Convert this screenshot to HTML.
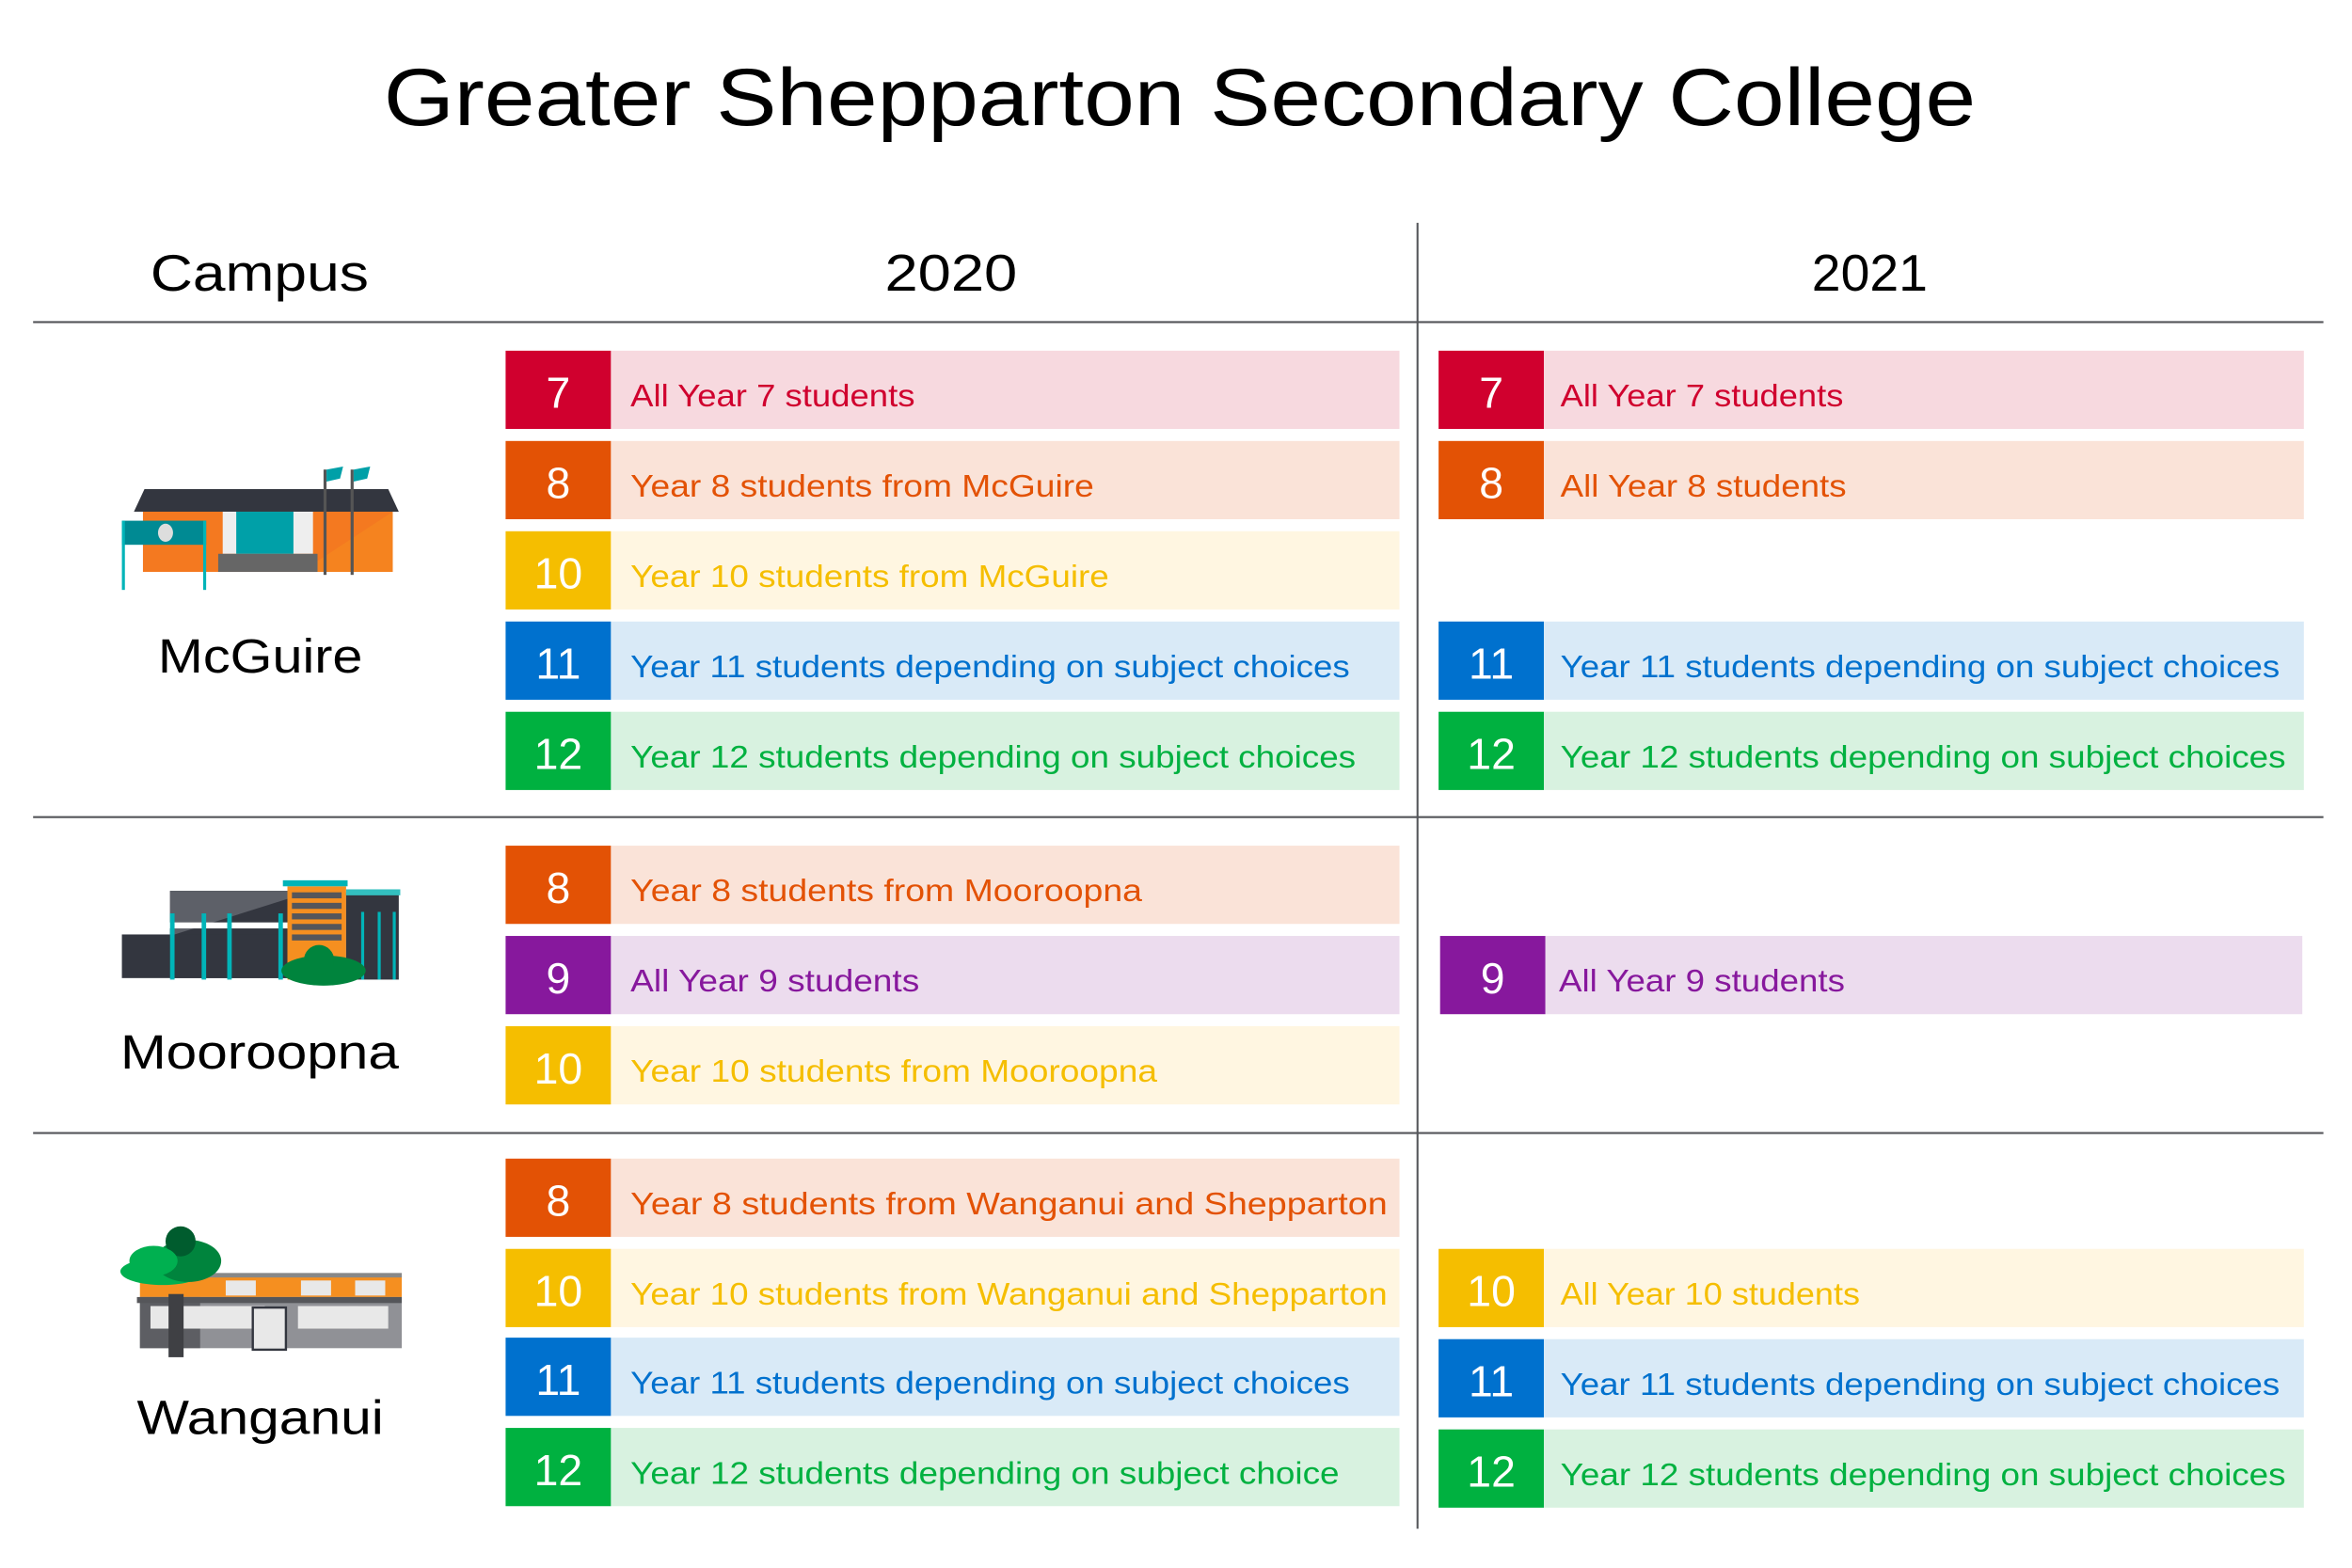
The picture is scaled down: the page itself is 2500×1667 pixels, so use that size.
<!DOCTYPE html>
<html><head><meta charset="utf-8"><style>html,body{margin:0;padding:0;background:#fff}svg{display:block}</style></head>
<body>
<svg width="2500" height="1667" viewBox="0 0 1563 1042" xmlns="http://www.w3.org/2000/svg" font-family="Liberation Sans, sans-serif">
<rect width="1563" height="1042" fill="#fff"/>
<text x="255" y="83" font-size="54" textLength="1058" lengthAdjust="spacingAndGlyphs" fill="#000">Greater Shepparton Secondary College</text>
<text x="100" y="193" font-size="34" textLength="145" lengthAdjust="spacingAndGlyphs">Campus</text>
<text x="588" y="193" font-size="34" textLength="88" lengthAdjust="spacingAndGlyphs">2020</text>
<text x="1204" y="193" font-size="34" textLength="77" lengthAdjust="spacingAndGlyphs">2021</text>
<g stroke="#55565a" stroke-width="1.3">
<line x1="22" y1="214" x2="1544" y2="214"/>
<line x1="22" y1="543" x2="1544" y2="543"/>
<line x1="22" y1="753" x2="1544" y2="753"/>
<line x1="942" y1="148" x2="942" y2="1016"/>
</g>
<text x="105" y="447" font-size="32" textLength="136" lengthAdjust="spacingAndGlyphs">McGuire</text>
<text x="80" y="710" font-size="32" textLength="185" lengthAdjust="spacingAndGlyphs">Mooroopna</text>
<text x="91" y="953" font-size="32" textLength="164" lengthAdjust="spacingAndGlyphs">Wanganui</text>

<!-- McGuire icon -->
<g>
<polygon points="96,325 258,325 265,340 89,340" fill="#33363f"/>
<rect x="95" y="340" width="166" height="40" fill="#f47920"/>
<polygon points="200,380 261,340 261,380" fill="#f58a20" opacity="0.6"/>
<rect x="148" y="340" width="60" height="28" fill="#eee"/>
<rect x="157" y="340" width="38" height="28" fill="#00a0a8"/>
<rect x="145" y="368" width="66" height="12" fill="#666"/>
<rect x="81" y="346" width="56" height="16" fill="#008a93"/>
<ellipse cx="110" cy="354" rx="5" ry="6" fill="#ddd"/>
<rect x="81" y="346" width="2" height="46" fill="#00b4b8"/><rect x="135" y="346" width="2" height="46" fill="#00b4b8"/>
<rect x="215" y="312" width="2" height="70" fill="#555"/><rect x="233" y="312" width="2" height="70" fill="#555"/>
<polygon points="217,312 228,310 226,318 217,320" fill="#00a0a8"/>
<polygon points="235,312 246,310 244,318 235,320" fill="#00a0a8"/>
</g>
<!-- Mooroopna icon -->
<g>
<rect x="113" y="592" width="95" height="58" fill="#33363f"/>
<rect x="81" y="621" width="110" height="29" fill="#33363f"/>
<polygon points="113,592 208,592 113,622" fill="#5d6068"/>
<rect x="81" y="613" width="110" height="4" fill="#fff"/>
<rect x="191" y="589" width="39" height="62" fill="#f58f20"/>
<rect x="188" y="585" width="43" height="4" fill="#00b4b8"/>
<g fill="#55565a"><rect x="194" y="593" width="33" height="4"/><rect x="194" y="600" width="33" height="4"/><rect x="194" y="607" width="33" height="4"/><rect x="194" y="614" width="33" height="4"/><rect x="194" y="621" width="33" height="4"/></g>
<rect x="230" y="593" width="35" height="58" fill="#33363f"/>
<rect x="230" y="591" width="36" height="4" fill="#33bfbf"/>
<g fill="#00b4b8"><rect x="113" y="607" width="3" height="44"/><rect x="134" y="607" width="3" height="44"/><rect x="151" y="607" width="3" height="44"/><rect x="185" y="607" width="3" height="44"/><rect x="240" y="606" width="2" height="45"/><rect x="251" y="606" width="2" height="45"/><rect x="261" y="606" width="2" height="45"/></g>
<ellipse cx="215" cy="645" rx="28" ry="10" fill="#00843d"/>
<circle cx="212" cy="638" r="10" fill="#00843d"/>
</g>
<!-- Wanganui icon -->
<g>
<rect x="93" y="848" width="174" height="14" fill="#f58f20"/>
<rect x="93" y="846" width="174" height="3" fill="#888"/>
<rect x="93" y="862" width="174" height="34" fill="#909196"/>
<rect x="93" y="862" width="40" height="34" fill="#5d5e63"/>
<rect x="91" y="862" width="176" height="4" fill="#55565a"/>
<g fill="#e8e8e8"><rect x="100" y="868" width="40" height="15"/><rect x="136" y="868" width="40" height="15"/><rect x="198" y="868" width="40" height="15"/><rect x="232" y="868" width="26" height="15"/><rect x="200" y="851" width="20" height="10"/><rect x="236" y="851" width="20" height="10"/><rect x="150" y="851" width="20" height="10"/></g>
<rect x="168" y="869" width="22" height="28" fill="#e8e8e8" stroke="#33363f" stroke-width="1.5"/>
<rect x="112" y="860" width="10" height="42" fill="#3f4044"/>
<ellipse cx="108" cy="845" rx="28" ry="9" fill="#00b050"/>
<ellipse cx="125" cy="838" rx="22" ry="14" fill="#00843d"/>
<circle cx="120" cy="825" r="10" fill="#005c2e"/>
<ellipse cx="102" cy="838" rx="16" ry="10" fill="#00b050"/>
</g>

<!-- rows -->
<g font-size="21">
<!-- 2020 McGuire -->
<rect x="336" y="233" width="70" height="52" fill="#d0002e"/><rect x="406" y="233" width="524" height="52" fill="#f7d9df"/>
<text x="371" y="271" font-size="29" fill="#fff" text-anchor="middle">7</text>
<text x="419" y="270" fill="#d0002e" textLength="189" lengthAdjust="spacingAndGlyphs">All Year 7 students</text>
<rect x="336" y="293" width="70" height="52" fill="#e35205"/><rect x="406" y="293" width="524" height="52" fill="#fae3d8"/>
<text x="371" y="331" font-size="29" fill="#fff" text-anchor="middle">8</text>
<text x="419" y="330" fill="#e35205" textLength="308" lengthAdjust="spacingAndGlyphs">Year 8 students from McGuire</text>
<rect x="336" y="353" width="70" height="52" fill="#f5be00"/><rect x="406" y="353" width="524" height="52" fill="#fff6e1"/>
<text x="371" y="391" font-size="29" fill="#fff" text-anchor="middle">10</text>
<text x="419" y="390" fill="#f5be00" textLength="318" lengthAdjust="spacingAndGlyphs">Year 10 students from McGuire</text>
<rect x="336" y="413" width="70" height="52" fill="#0071ce"/><rect x="406" y="413" width="524" height="52" fill="#d9eaf7"/>
<text x="371" y="451" font-size="29" fill="#fff" text-anchor="middle">11</text>
<text x="419" y="450" fill="#0071ce" textLength="478" lengthAdjust="spacingAndGlyphs">Year 11 students depending on subject choices</text>
<rect x="336" y="473" width="70" height="52" fill="#00b140"/><rect x="406" y="473" width="524" height="52" fill="#d8f2e0"/>
<text x="371" y="511" font-size="29" fill="#fff" text-anchor="middle">12</text>
<text x="419" y="510" fill="#00b140" textLength="482" lengthAdjust="spacingAndGlyphs">Year 12 students depending on subject choices</text>
<!-- 2020 Mooroopna -->
<rect x="336" y="562" width="70" height="52" fill="#e35205"/><rect x="406" y="562" width="524" height="52" fill="#fae3d8"/>
<text x="371" y="600" font-size="29" fill="#fff" text-anchor="middle">8</text>
<text x="419" y="599" fill="#e35205" textLength="340" lengthAdjust="spacingAndGlyphs">Year 8 students from Mooroopna</text>
<rect x="336" y="622" width="70" height="52" fill="#87189d"/><rect x="406" y="622" width="524" height="52" fill="#ecdcee"/>
<text x="371" y="660" font-size="29" fill="#fff" text-anchor="middle">9</text>
<text x="419" y="659" fill="#87189d" textLength="192" lengthAdjust="spacingAndGlyphs">All Year 9 students</text>
<rect x="336" y="682" width="70" height="52" fill="#f5be00"/><rect x="406" y="682" width="524" height="52" fill="#fff6e1"/>
<text x="371" y="720" font-size="29" fill="#fff" text-anchor="middle">10</text>
<text x="419" y="719" fill="#f5be00" textLength="350" lengthAdjust="spacingAndGlyphs">Year 10 students from Mooroopna</text>
<!-- 2020 Wanganui -->
<rect x="336" y="770" width="70" height="52" fill="#e35205"/><rect x="406" y="770" width="524" height="52" fill="#fae3d8"/>
<text x="371" y="808" font-size="29" fill="#fff" text-anchor="middle">8</text>
<text x="419" y="807" fill="#e35205" textLength="503" lengthAdjust="spacingAndGlyphs">Year 8 students from Wanganui and Shepparton</text>
<rect x="336" y="830" width="70" height="52" fill="#f5be00"/><rect x="406" y="830" width="524" height="52" fill="#fff6e1"/>
<text x="371" y="868" font-size="29" fill="#fff" text-anchor="middle">10</text>
<text x="419" y="867" fill="#f5be00" textLength="503" lengthAdjust="spacingAndGlyphs">Year 10 students from Wanganui and Shepparton</text>
<rect x="336" y="889" width="70" height="52" fill="#0071ce"/><rect x="406" y="889" width="524" height="52" fill="#d9eaf7"/>
<text x="371" y="927" font-size="29" fill="#fff" text-anchor="middle">11</text>
<text x="419" y="926" fill="#0071ce" textLength="478" lengthAdjust="spacingAndGlyphs">Year 11 students depending on subject choices</text>
<rect x="336" y="949" width="70" height="52" fill="#00b140"/><rect x="406" y="949" width="524" height="52" fill="#d8f2e0"/>
<text x="371" y="987" font-size="29" fill="#fff" text-anchor="middle">12</text>
<text x="419" y="986" fill="#00b140" textLength="471" lengthAdjust="spacingAndGlyphs">Year 12 students depending on subject choice</text>

<!-- 2021 -->
<rect x="956" y="233" width="70" height="52" fill="#d0002e"/><rect x="1026" y="233" width="505" height="52" fill="#f7d9df"/>
<text x="991" y="271" font-size="29" fill="#fff" text-anchor="middle">7</text>
<text x="1037" y="270" fill="#d0002e" textLength="188" lengthAdjust="spacingAndGlyphs">All Year 7 students</text>
<rect x="956" y="293" width="70" height="52" fill="#e35205"/><rect x="1026" y="293" width="505" height="52" fill="#fae3d8"/>
<text x="991" y="331" font-size="29" fill="#fff" text-anchor="middle">8</text>
<text x="1037" y="330" fill="#e35205" textLength="190" lengthAdjust="spacingAndGlyphs">All Year 8 students</text>
<rect x="956" y="413" width="70" height="52" fill="#0071ce"/><rect x="1026" y="413" width="505" height="52" fill="#d9eaf7"/>
<text x="991" y="451" font-size="29" fill="#fff" text-anchor="middle">11</text>
<text x="1037" y="450" fill="#0071ce" textLength="478" lengthAdjust="spacingAndGlyphs">Year 11 students depending on subject choices</text>
<rect x="956" y="473" width="70" height="52" fill="#00b140"/><rect x="1026" y="473" width="505" height="52" fill="#d8f2e0"/>
<text x="991" y="511" font-size="29" fill="#fff" text-anchor="middle">12</text>
<text x="1037" y="510" fill="#00b140" textLength="482" lengthAdjust="spacingAndGlyphs">Year 12 students depending on subject choices</text>
<rect x="957" y="622" width="70" height="52" fill="#87189d"/><rect x="1027" y="622" width="503" height="52" fill="#ecdcee"/>
<text x="992" y="660" font-size="29" fill="#fff" text-anchor="middle">9</text>
<text x="1036" y="659" fill="#87189d" textLength="190" lengthAdjust="spacingAndGlyphs">All Year 9 students</text>
<rect x="956" y="830" width="70" height="52" fill="#f5be00"/><rect x="1026" y="830" width="505" height="52" fill="#fff6e1"/>
<text x="991" y="868" font-size="29" fill="#fff" text-anchor="middle">10</text>
<text x="1037" y="867" fill="#f5be00" textLength="199" lengthAdjust="spacingAndGlyphs">All Year 10 students</text>
<rect x="956" y="890" width="70" height="52" fill="#0071ce"/><rect x="1026" y="890" width="505" height="52" fill="#d9eaf7"/>
<text x="991" y="928" font-size="29" fill="#fff" text-anchor="middle">11</text>
<text x="1037" y="927" fill="#0071ce" textLength="478" lengthAdjust="spacingAndGlyphs">Year 11 students depending on subject choices</text>
<rect x="956" y="950" width="70" height="52" fill="#00b140"/><rect x="1026" y="950" width="505" height="52" fill="#d8f2e0"/>
<text x="991" y="988" font-size="29" fill="#fff" text-anchor="middle">12</text>
<text x="1037" y="987" fill="#00b140" textLength="482" lengthAdjust="spacingAndGlyphs">Year 12 students depending on subject choices</text>
</g>
</svg>
</body></html>
